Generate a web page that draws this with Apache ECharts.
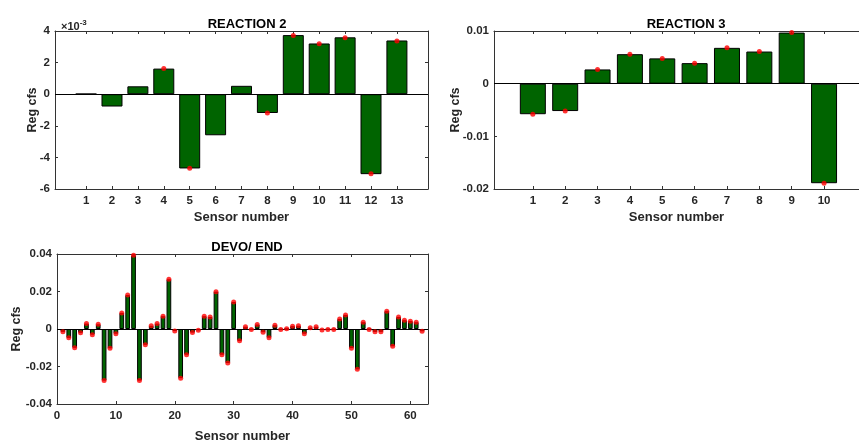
<!DOCTYPE html>
<html>
<head>
<meta charset="utf-8">
<script src="https://cdn.jsdelivr.net/npm/echarts@6/dist/echarts.min.js"></script>
<style>
  html, body { margin: 0; padding: 0; background: #fff; }
  #main { width: 859px; height: 444px; }
</style>
</head>
<body>
<div id="main"></div>
<script>
  // REACTION 2 (values in units of 1e-3)
  const r2Sensors = [1, 2, 3, 4, 5, 6, 7, 8, 9, 10, 11, 12, 13];
  const r2Bars = [0.02, -0.78, 0.5, 1.62, -4.7, -2.6, 0.53, -1.19, 3.74, 3.21, 3.6, -5.06, 3.4];
  const r2Dots = [null, null, null, 1.62, -4.68, null, null, -1.19, 3.72, 3.2, 3.58, -5.04, 3.37];
  const r2YTicks = [-6, -4, -2, 0, 2, 4];

  // REACTION 3
  const r3Sensors = [1, 2, 3, 4, 5, 6, 7, 8, 9, 10];
  const r3Bars = [-0.0058, -0.0052, 0.0027, 0.0056, 0.0048, 0.0039, 0.0068, 0.0061, 0.0097, -0.0189];
  const r3Dots = [-0.0058, -0.0052, 0.0027, 0.0056, 0.0048, 0.0039, 0.0068, 0.0061, 0.0097, -0.0189];

  // DEVO/ END, sensors 1..62
  const devoBars = [
    -0.0015, -0.0047, -0.0100, -0.0020, 0.0029, -0.0030, 0.0025, -0.0275, -0.0103, -0.0025,
    0.0086, 0.0181, 0.0393, -0.0275, -0.0084, 0.0017, 0.0029, 0.0068, 0.0265, -0.0010,
    -0.0262, -0.0137, -0.0019, -0.0007, 0.0068, 0.0064, 0.0199, -0.0137, -0.0181, 0.0144,
    -0.0063, 0.0012, -0.0003, 0.0024, -0.0017, -0.0046, 0.0020, -0.0003, 0.0001, 0.0015,
    0.0017, -0.0025, 0.0007, 0.0012, -0.0005, -0.0003, -0.0003, 0.0053, 0.0075, -0.0102,
    -0.0215, 0.0036, -0.0002, -0.0015, -0.0015, 0.0095, -0.0092, 0.0064, 0.0047, 0.0042,
    0.0036, -0.0012
  ];
  const devoDots = devoBars;
  const devoXTicks = [0, 10, 20, 30, 40, 50, 60];

  const font = 'Liberation Sans';
  const axisColor = '#333';
  const green = '#006400';

  function xAxes(grid, min, max, ticks, name, gap) {
    const base = {
      gridIndex: grid, type: 'value', min: min, max: max,
      splitLine: { show: false },
      axisLine: { onZero: false, lineStyle: { color: axisColor, width: 1 } }
    };
    return [
      Object.assign({}, base, {
        position: 'bottom',
        name: name, nameLocation: 'middle', nameGap: gap,
        nameTextStyle: { fontFamily: font, fontWeight: 'bold', fontSize: 13, color: '#262626' },
        axisTick: { inside: true, length: 3, customValues: ticks, lineStyle: { color: axisColor } },
        axisLabel: { customValues: ticks, margin: 6, fontFamily: font, fontWeight: 'bold', fontSize: 11.5, color: '#262626' }
      }),
      Object.assign({}, base, {
        position: 'top',
        axisTick: { inside: true, length: 3, customValues: ticks, lineStyle: { color: axisColor } },
        axisLabel: { show: false }
      })
    ];
  }

  function yAxes(grid, min, max, interval, gap, showRight) {
    const base = {
      gridIndex: grid, type: 'value', min: min, max: max, interval: interval,
      splitLine: { show: false },
      axisLine: { show: true, onZero: false, lineStyle: { color: axisColor, width: 1 } },
      axisTick: { show: true, inside: true, length: 3, lineStyle: { color: axisColor } }
    };
    return [
      Object.assign({}, base, {
        position: 'left',
        name: 'Reg cfs', nameLocation: 'middle', nameGap: gap, nameMoveOverlap: false,
        nameTextStyle: { fontFamily: font, fontWeight: 'bold', fontSize: 12.5, color: '#262626' },
        axisLabel: { margin: 5, fontFamily: font, fontWeight: 'bold', fontSize: 11.5, color: '#262626' }
      }),
      Object.assign({}, base, { position: 'right', show: showRight, axisLabel: { show: false } })
    ];
  }

  function barSeries(idx, xs, bars, dots, width) {
    return [
      {
        type: 'bar', xAxisIndex: idx * 2, yAxisIndex: idx * 2,
        barWidth: width,
        data: xs.map((x, i) => [x, bars[i]]),
        itemStyle: { color: green, borderColor: '#000', borderWidth: 1 },
        markLine: {
          silent: true, symbol: 'none', label: { show: false },
          lineStyle: { color: '#000', width: 1, type: 'solid' },
          data: [{ yAxis: 0 }]
        }
      },
      {
        type: 'scatter', xAxisIndex: idx * 2, yAxisIndex: idx * 2,
        symbolSize: 5, z: 5,
        itemStyle: { color: '#ff0000' },
        data: xs.map((x, i) => [x, dots[i]]).filter(d => d[1] !== null)
      }
    ];
  }

  const devoSensors = devoBars.map((v, i) => i + 1);
  const titleStyle = { fontFamily: font, fontWeight: 'bold', fontSize: 13, color: '#000' };

  const chart = echarts.init(document.getElementById('main'));
  chart.setOption({
    animation: false,
    title: [
      { text: 'REACTION 2', left: 242, top: 13, textAlign: 'center', textStyle: titleStyle },
      { text: 'REACTION 3', left: 681, top: 13, textAlign: 'center', textStyle: titleStyle },
      { text: 'DEVO/ END', left: 242, top: 236, textAlign: 'center', textStyle: titleStyle },
      {
        text: '{a|×10}{b|-3}', left: 56, top: 14,
        textStyle: { rich: {
          a: { fontFamily: font, fontSize: 11, color: '#262626' },
          b: { fontFamily: font, fontSize: 8, color: '#262626', verticalAlign: 'top', padding: [0, 0, 7, 0] }
        } }
      }
    ],
    grid: [
      { left: 55, top: 31, width: 373, height: 158 },
      { left: 494, top: 31, width: 370, height: 158 },
      { left: 57, top: 254, width: 371, height: 158 }
    ],
    xAxis: [].concat(
      xAxes(0, -0.2, 14.2, r2Sensors, 'Sensor number', 22),
      xAxes(1, -0.2, 11.08, r3Sensors, 'Sensor number', 22),
      xAxes(2, 0, 63, devoXTicks, 'Sensor number', 26)
    ),
    yAxis: [].concat(
      yAxes(0, r2YTicks[0], r2YTicks[r2YTicks.length - 1], 2, 16, true),
      yAxes(1, -0.02, 0.01, 0.01, 32, false),
      yAxes(2, -0.04, 0.04, 0.02, 34, true)
    ),
    series: [].concat(
      barSeries(0, r2Sensors, r2Bars, r2Dots, 21),
      barSeries(1, r3Sensors, r3Bars, r3Dots, 26),
      barSeries(2, devoSensors, devoBars, devoDots, 4.7)
    )
  });
</script>
</body>
</html>
